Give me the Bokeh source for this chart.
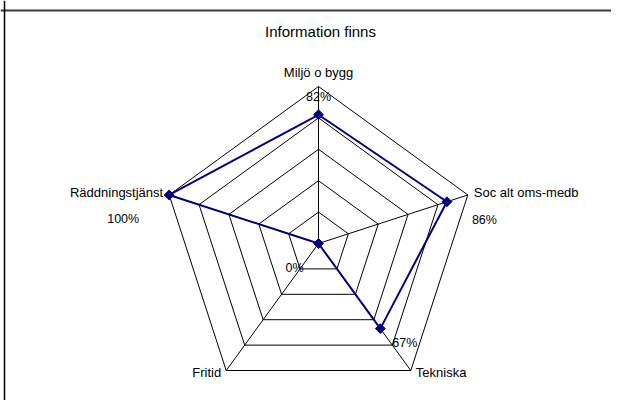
import numpy as np
from bokeh.plotting import figure
from bokeh.models import Range1d, Span
from bokeh.core.properties import value
from bokeh.embed import file_html
from bokeh.resources import INLINE

# ---- data ----
categories = ["Miljö o bygg", "Soc alt oms-medb", "Tekniska", "Fritid", "Räddningstjänst"]
values = [82, 86, 67, 0, 100]
value_labels = ["82%", "86%", "67%", "0%", "100%"]
grid_levels = [20, 40, 60, 80, 100]
title_text = "Information finns"

# ---- layout (pixel geometry of the reference) ----
W, H = 611, 400
cx, cy, R = 318.0, 243.0, 157.0   # centre in figure pixels, radius of 100%
FONT = value("Liberation Sans")

p = figure(width=W, height=H, output_backend="svg", toolbar_location=None,
           x_range=Range1d(-cx / R, (W - cx) / R),
           y_range=Range1d(-(H - cy) / R, cy / R),
           min_border=0, match_aspect=False)
p.axis.visible = False
p.grid.visible = False
p.outline_line_color = None
p.background_fill_color = "white"
p.border_fill_color = "white"

n = len(categories)
ang = np.pi / 2 - np.arange(n) * 2 * np.pi / n
ux, uy = np.cos(ang), np.sin(ang)

# grid rings
for lv in grid_levels:
    r = lv / 100.0
    p.line(list(r * ux) + [r * ux[0]], list(r * uy) + [r * uy[0]],
           line_color="black", line_width=1)
# spokes
p.multi_line([[0, x] for x in ux], [[0, y] for y in uy], line_color="black", line_width=1)

# series
rv = np.array(values) / 100.0
sx, sy = rv * ux, rv * uy
p.line(list(sx) + [sx[0]], list(sy) + [sy[0]], line_color="#000080", line_width=2)
p.scatter(sx, sy, marker="square", angle=np.pi / 4, size=7,
          fill_color="#000080", line_color="#000080")

# category labels
cat_dx = [0, 6, 5, -5, -6]
cat_dy = [-14, -2, 2, 2, -2]
cat_align = ["center", "left", "left", "right", "right"]
for i in range(n):
    p.text([ux[i]], [uy[i]], text=[categories[i]], text_font=FONT, text_font_size="13px",
           text_color="black", text_align=cat_align[i], text_baseline="middle",
           x_offset=cat_dx[i], y_offset=cat_dy[i])

# value labels
val_dx = [0, 25, 12, -33, -46]
val_dy = [-18, 18, 14, 24, 24]
val_align = ["center", "left", "left", "left", "center"]
for i in range(n):
    p.text([sx[i]], [sy[i]], text=[value_labels[i]], text_font=FONT, text_font_size="12.5px",
           text_color="black", text_align=val_align[i], text_baseline="middle",
           x_offset=val_dx[i], y_offset=val_dy[i])

# title
p.text([2 / R], [(cy - 31) / R], text=[title_text], text_font=FONT, text_font_size="15px",
       text_color="black", text_align="center", text_baseline="middle")

# chart frame (top and left edges visible in reference)
p.add_layout(Span(location=(cy - 10) / R, dimension="width", line_color="#3c3c3c", line_width=2))
p.add_layout(Span(location=(-cx + 4) / R, dimension="height", line_color="black", line_width=1.5))

open("out.html", "w").write(file_html(p, INLINE))
